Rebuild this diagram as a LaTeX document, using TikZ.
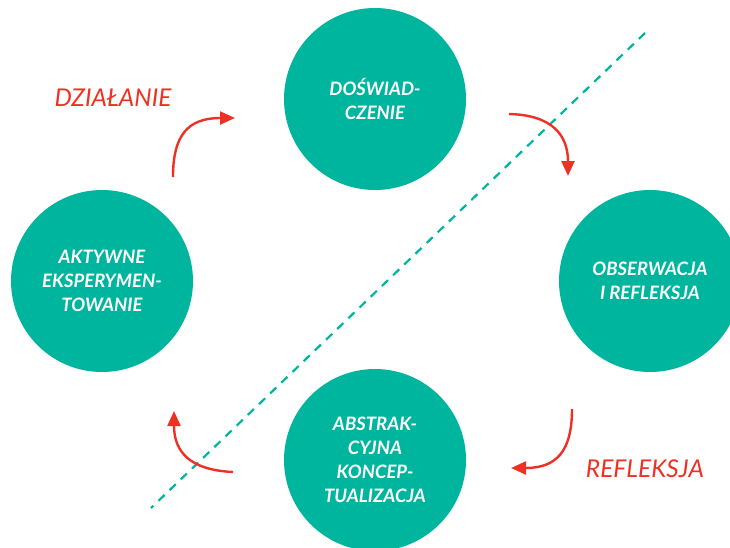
\documentclass[tikz,border=0pt]{standalone}
\usepackage{fontspec}
\setmainfont{Lato}
\usetikzlibrary{arrows.meta}
\definecolor{teal1}{HTML}{00B59D}
\definecolor{red1}{HTML}{EE3124}
\begin{document}
\begin{tikzpicture}[x=1pt,y=-1pt,
  stage/.style={circle, fill=teal1, minimum size=182pt, inner sep=0pt, align=center, text=white,
    font=\fontsize{18.5}{24}\selectfont\bfseries\itshape},
  lbl/.style={text=red1, inner sep=0pt, font=\fontsize{24.5}{28}\selectfont\itshape},
  cyc/.style={draw=red1, line width=2.4pt, -{Triangle[length=15pt,width=13pt]}},
  divider/.style={draw=teal1, line width=2.2pt, dash pattern=on 8.5pt off 7pt}]
\useasboundingbox (0,0) rectangle (730,547);
% divider
\coordinate (dA) at (645,33);
\coordinate (dB) at (151,508);
\draw[divider] (dA) -- (dB);
% stages
\node[stage] (exp) at (375,99) {DOŚWIAD-\\CZENIE};
\node[stage] (obs) at (650,281) {OBSERWACJA\\I REFLEKSJA};
\node[stage] (abs) at (375,460) {ABSTRAK-\\CYJNA\\KONCEP-\\TUALIZACJA};
\node[stage] (akt) at (102,281) {AKTYWNE\\EKSPERYMEN-\\TOWANIE};
% labels
\node[lbl] (dz) at (113,98) {DZIAŁANIE};
\node[lbl] (rf) at (645,469) {REFLEKSJA};
% arrow end points
\coordinate (a1s) at (173,177);
\coordinate (a1e) at (235,118);
\coordinate (a2s) at (509,114);
\coordinate (a2e) at (568,176);
\coordinate (a3s) at (572,409);
\coordinate (a3e) at (511,468);
\coordinate (a4s) at (233,472);
\coordinate (a4e) at (174,411);
\draw[cyc] (a1s) .. controls (173,135) and (188,118) .. (a1e);
\draw[cyc] (a2s) .. controls (552,115) and (568,135) .. (a2e);
\draw[cyc] (a3s) .. controls (572,452) and (556,468) .. (a3e);
\draw[cyc] (a4s) .. controls (190,470) and (174,452) .. (a4e);
\end{tikzpicture}
\end{document}
